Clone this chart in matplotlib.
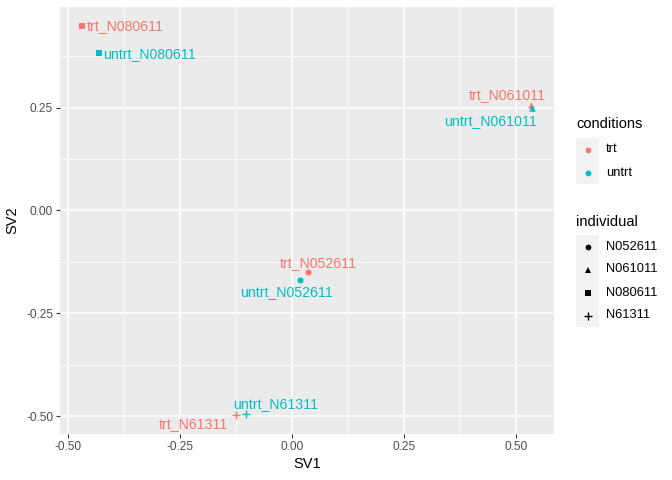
import matplotlib
matplotlib.use("Agg")
from matplotlib import pyplot as plt
from matplotlib.patches import Rectangle
from matplotlib.transforms import Affine2D

plt.rcParams['font.family'] = ['Liberation Sans', 'DejaVu Sans']

# data
samples = ["trt_N052611", "trt_N061011", "trt_N080611", "trt_N61311",
           "untrt_N052611", "untrt_N061011", "untrt_N080611", "untrt_N61311"]
conditions = ["trt", "trt", "trt", "trt", "untrt", "untrt", "untrt", "untrt"]
individuals = ["N052611", "N061011", "N080611", "N61311",
               "N052611", "N061011", "N080611", "N61311"]
sv1 = [0.035, 0.533, -0.468, -0.125, 0.018, 0.534, -0.431, -0.102]
sv2 = [-0.149, 0.257, 0.447, -0.496, -0.168, 0.249, 0.383, -0.495]

cond_levels = ["trt", "untrt"]
indiv_levels = ["N052611", "N061011", "N080611", "N61311"]
x_ticks = [-0.50, -0.25, 0.00, 0.25, 0.50]
y_ticks = [-0.50, -0.25, 0.00, 0.25]

COLORS = {"trt": "#F8766D", "untrt": "#00BFC4"}
SHAPES = {"N052611": ("o", 19), "N061011": ("^", 22), "N080611": ("s", 16), "N61311": ("+", 36)}
# label offsets (pixels, right/down) mimicking ggrepel placement
LABEL_OFF = {"trt_N052611": (10, -9, "center"), "trt_N061011": (-24, -10, "center"),
             "trt_N080611": (4, 0, "left"), "trt_N61311": (-43, 9, "center"),
             "untrt_N052611": (-14, 12, "center"), "untrt_N061011": (-41, 13, "center"),
             "untrt_N080611": (4, 1, "left"), "untrt_N61311": (29, -10, "center")}

W, H = 672, 480
fig = plt.figure(figsize=(W / 100, H / 100), dpi=100)
ax = fig.add_axes([60 / W, 1 - 434 / H, 494 / W, 427 / H])
ax.set_facecolor("#EBEBEB")
for s in ax.spines.values():
    s.set_visible(False)

xr = max(sv1) - min(sv1)
yr = max(sv2) - min(sv2)
ax.set_xlim(min(sv1) - 0.05 * xr, max(sv1) + 0.05 * xr)
ax.set_ylim(min(sv2) - 0.05 * yr, max(sv2) + 0.05 * yr)

ax.set_xticks(x_ticks)
ax.set_xticklabels(["%.2f" % v for v in x_ticks])
ax.set_yticks(y_ticks)
ax.set_yticklabels(["%.2f" % v for v in y_ticks])
ax.set_xticks([(a + b) / 2 for a, b in zip(x_ticks[:-1], x_ticks[1:])], minor=True)
ax.set_yticks([(a + b) / 2 for a, b in zip(y_ticks[:-1], y_ticks[1:])] + [0.375], minor=True)
ax.grid(True, which="major", color="white", linewidth=1.1)
ax.grid(True, which="minor", color="white", linewidth=0.55)
ax.set_axisbelow(True)
ax.tick_params(which="major", length=3, width=0.8, color="#333333", labelsize=8.6,
               labelcolor="#4D4D4D", pad=2)
ax.tick_params(which="minor", length=0)

for i in range(len(samples)):
    m, sz = SHAPES[individuals[i]]
    c = COLORS[conditions[i]]
    if m == "+":
        ax.scatter(sv1[i], sv2[i], marker=m, s=sz, color=c, linewidths=1.0, zorder=3)
    else:
        ax.scatter(sv1[i], sv2[i], marker=m, s=sz, color=c, linewidths=0, zorder=3)
    dx, dy, ha = LABEL_OFF[samples[i]]
    ax.annotate(samples[i], (sv1[i], sv2[i]), xytext=(dx * 0.72, -dy * 0.72),
                textcoords="offset points", ha=ha, va="center", color=c,
                fontsize=10.2, zorder=4)

ax.set_xlabel("SV1", fontsize=10.5, labelpad=3)
ax.set_ylabel("SV2", fontsize=10.5, labelpad=5)

# legends drawn in pixel coordinates (origin top-left)
px = Affine2D().scale(1 / W, -1 / H).translate(0, 1) + fig.transFigure

def legend_block(title, title_y, keys_top, entries):
    fig.text(576, title_y, title, transform=px, fontsize=10.5, va="center", ha="left")
    n = len(entries)
    fig.patches.append(Rectangle((576, keys_top), 23, 23 * n, transform=px,
                                 facecolor="#F2F2F2", edgecolor="none"))
    for k, (label, marker, sz, color) in enumerate(entries):
        yc = keys_top + 11.5 + 23 * k
        lw = 1.0 if marker == "+" else 0
        fig.add_artist(plt.Line2D([587.5], [yc], transform=px, marker=marker, linestyle="none",
                                  markersize=sz ** 0.5 * 0.95, color=color, markeredgewidth=lw))
        fig.text(606, yc, label, transform=px, fontsize=9.3, va="center", ha="left")

legend_block("conditions", 124, 138,
             [(c, "o", 19, COLORS[c]) for c in cond_levels])
legend_block("individual", 222, 235,
             [(lv, SHAPES[lv][0], SHAPES[lv][1], "black") for lv in indiv_levels])

plt.savefig("out.png", dpi=100)
